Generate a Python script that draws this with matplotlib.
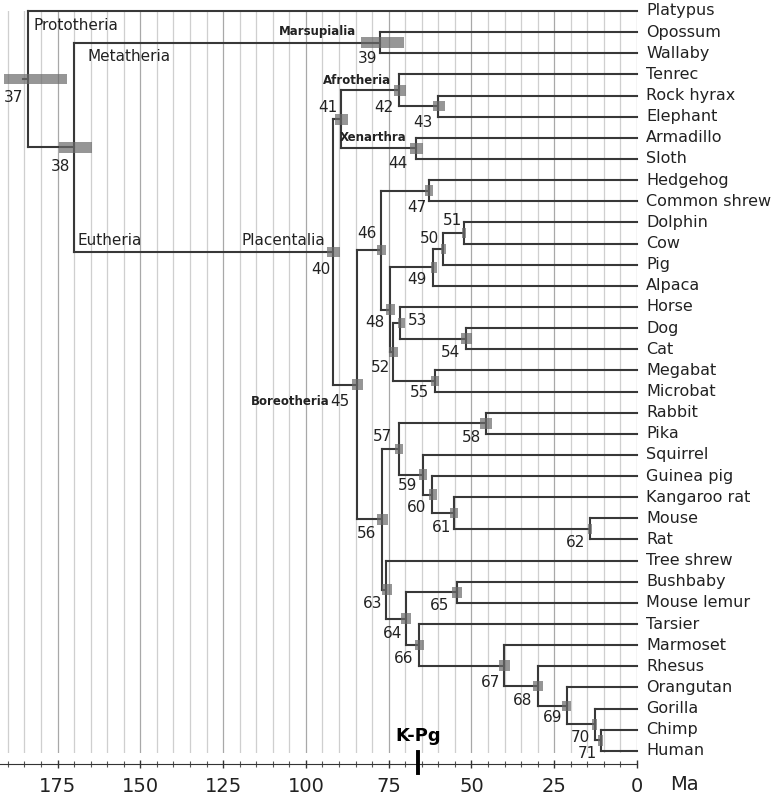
import matplotlib.pyplot as plt
import matplotlib.transforms as mtransforms
from matplotlib.patches import Rectangle

# leaves top to bottom
leaves = ['Platypus', 'Opossum', 'Wallaby', 'Tenrec', 'Rock hyrax', 'Elephant',
          'Armadillo', 'Sloth', 'Hedgehog', 'Common shrew', 'Dolphin', 'Cow',
          'Pig', 'Alpaca', 'Horse', 'Dog', 'Cat', 'Megabat', 'Microbat',
          'Rabbit', 'Pika', 'Squirrel', 'Guinea pig', 'Kangaroo rat', 'Mouse',
          'Rat', 'Tree shrew', 'Bushbaby', 'Mouse lemur', 'Tarsier', 'Marmoset',
          'Rhesus', 'Orangutan', 'Gorilla', 'Chimp', 'Human']

# internal nodes: id, children, age (Ma), confidence interval (old, young)
node_ids = list(range(37, 72))
node_children = [
    ('Platypus', 38), (39, 40), ('Opossum', 'Wallaby'), (41, 45), (42, 44),
    ('Tenrec', 43), ('Rock hyrax', 'Elephant'), ('Armadillo', 'Sloth'),
    (46, 56), (47, 48), ('Hedgehog', 'Common shrew'), (49, 52), (50, 'Alpaca'),
    (51, 'Pig'), ('Dolphin', 'Cow'), (53, 55), ('Horse', 54), ('Dog', 'Cat'),
    ('Megabat', 'Microbat'), (57, 63), (58, 59), ('Rabbit', 'Pika'),
    ('Squirrel', 60), ('Guinea pig', 61), ('Kangaroo rat', 62), ('Mouse', 'Rat'),
    ('Tree shrew', 64), (65, 66), ('Bushbaby', 'Mouse lemur'), ('Tarsier', 67),
    ('Marmoset', 68), ('Rhesus', 69), ('Orangutan', 70), ('Gorilla', 71),
    ('Chimp', 'Human')]
node_ages = [184.0, 170.0, 77.6, 91.8, 89.4, 71.9, 60.1, 66.8, 84.6, 77.3, 62.8,
             74.6, 61.6, 58.6, 52.3, 73.7, 71.6, 51.7, 61.0, 77.0, 71.9, 45.6,
             64.7, 61.9, 55.3, 14.2, 75.8, 69.8, 54.4, 65.9, 40.2, 29.9, 21.1,
             12.7, 10.9]
ci_old = [191.2, 174.6, 83.4, 93.6, 91.2, 73.4, 61.6, 68.6, 86.0, 78.5, 64.0,
          75.8, 62.2, 59.2, 53.0, 74.9, 72.2, 53.2, 62.2, 78.5, 73.1, 47.4,
          65.9, 62.8, 56.5, 14.8, 77.0, 71.3, 55.9, 67.1, 41.7, 31.4, 22.7,
          13.6, 11.8]
ci_young = [172.2, 164.6, 70.4, 89.7, 87.3, 69.8, 58.0, 64.7, 82.8, 75.8, 61.6,
            73.1, 60.4, 57.6, 51.6, 72.2, 70.1, 49.8, 59.8, 75.2, 70.7, 43.8,
            63.4, 60.4, 54.1, 13.6, 74.0, 68.3, 52.9, 64.4, 38.4, 28.4, 19.9,
            12.1, 10.3]

kpg_age = 66

# node label placement (pixels): dx to right edge, dy to centre (down positive)
label_off = {37: (-5, 18), 38: (-4, 19), 39: (-3, 16), 40: (-3, 17), 41: (-4, -12),
             42: (-5, 17), 43: (-5, 16), 44: (-8, 15), 45: (-7, 17), 46: (-4, -17),
             47: (-3, 17), 48: (-6, 13), 49: (-6, 12), 50: (-4, -10), 51: (-2, -12),
             52: (-3, 16), 54: (-6, 14), 55: (-6, 12), 56: (-6, 14),
             57: (-7, -12), 58: (-5, 14), 59: (-6, 11), 60: (-6, 13), 61: (-3, 14),
             62: (-5, 14), 63: (-4, 14), 64: (-4, 15), 65: (-8, 13), 66: (-5, 14),
             67: (-4, 17), 68: (-6, 14), 69: (-5, 12), 70: (-5, 13), 71: (-4, 13)}

age = dict(zip(node_ids, node_ages))
kids = dict(zip(node_ids, node_children))
row = {name: i for i, name in enumerate(leaves)}


def get_row(n):
    if n not in row:
        a, b = kids[n]
        row[n] = (get_row(a) + get_row(b)) / 2
    return row[n]


def get_age(n):
    return age.get(n, 0.0)


for n in node_ids:
    get_row(n)

fig = plt.figure(figsize=(7.78, 7.96), dpi=100)
ax = fig.add_axes([0, 43 / 796, 637 / 778, 742 / 796])

lc = '#383838'
lw = 1.5
for n in node_ids:
    a, b = kids[n]
    ax.plot([age[n], age[n]], [row[a], row[b]], color=lc, lw=lw, clip_on=False,
            solid_capstyle='projecting', zorder=3)
    for c in (a, b):
        ax.plot([age[n], get_age(c)], [row[c], row[c]], color=lc, lw=lw,
                clip_on=False, solid_capstyle='projecting', zorder=3)
# root stub
ax.plot([age[37], age[37] + 1.5], [row[37], row[37]], color=lc, lw=lw, zorder=3)

for n, lo, hi in zip(node_ids, ci_old, ci_young):
    ax.add_patch(Rectangle((hi, row[n] - 0.25), lo - hi, 0.5, facecolor='#6a6a6a',
                           edgecolor='none', alpha=0.7, zorder=4))

# node numbers
for n in node_ids:
    if n == 53:
        ax.annotate('53', (age[n], row[n]), xytext=(8, 2), textcoords='offset pixels',
                    ha='left', va='center', fontsize=11, color='#222222')
        continue
    dx, dy = label_off[n]
    ax.annotate(str(n), (age[n], row[n]), xytext=(dx, -dy), textcoords='offset pixels',
                ha='right', va='center', fontsize=11, color='#222222')

# clade names
big = dict(fontsize=11, color='#222222', va='center')
small = dict(fontsize=8.5, color='#222222', va='center', fontweight='semibold')
ax.annotate('Prototheria', (age[37], row['Platypus']), xytext=(6, -15),
            textcoords='offset pixels', ha='left', **big)
ax.annotate('Metatheria', (age[38], row[39]), xytext=(13, -14),
            textcoords='offset pixels', ha='left', **big)
ax.annotate('Eutheria', (age[38], row[40]), xytext=(3, 12),
            textcoords='offset pixels', ha='left', **big)
ax.annotate('Placentalia', (age[40], row[40]), xytext=(-8, 12),
            textcoords='offset pixels', ha='right', **big)
ax.annotate('Marsupialia', (age[39], row[39]), xytext=(-24, 11),
            textcoords='offset pixels', ha='right', **small)
ax.annotate('Afrotheria', (age[42], row[42]), xytext=(-8, 10),
            textcoords='offset pixels', ha='right', **small)
ax.annotate('Xenarthra', (age[44], row[44]), xytext=(-9, 11),
            textcoords='offset pixels', ha='right', **small)
ax.annotate('Boreotheria', (age[45], row[45]), xytext=(-27, -17),
            textcoords='offset pixels', ha='right', **small)

# leaf names
for name in leaves:
    ax.annotate(name, (0, row[name]), xytext=(9, 0), textcoords='offset pixels',
                ha='left', va='center', fontsize=11.5, color='#222222',
                annotation_clip=False)

ax.set_xlim(192.4, 0)
ax.set_ylim(35.1, 0)
ax.set_xticks(range(0, 200, 25))
ax.set_xticks(range(0, 195, 5), minor=True)
ax.grid(axis='x', which='major', color='#a8a8a8', lw=0.9)
ax.grid(axis='x', which='minor', color='#cfcfcf', lw=0.9)
ax.set_axisbelow(True)
ax.set_yticks([])
for s in ('left', 'top', 'right'):
    ax.spines[s].set_visible(False)
ax.spines['bottom'].set_position(('outward', 8))
ax.spines['bottom'].set_color('#333333')
ax.tick_params(axis='x', which='major', direction='inout', length=6, width=1,
               labelsize=14, pad=6, colors='#333333', labelcolor='#222222')
ax.tick_params(axis='x', which='minor', direction='inout', length=4, width=0.8,
               colors='#555555')

# K-Pg boundary
trans = mtransforms.blended_transform_factory(ax.transData, ax.transAxes)
ax.plot([kpg_age, kpg_age], [0.0013, -0.027], transform=trans, color='black',
        lw=2.8, clip_on=False, zorder=5)
ax.text(kpg_age, 0.023, 'K-Pg', transform=trans, ha='center', va='center',
        fontsize=13, fontweight='bold')
fig.text(684 / 778, 1 - 785 / 796, 'Ma', ha='center', va='center', fontsize=14,
         color='#222222')

fig.savefig('out.png', dpi=100)
